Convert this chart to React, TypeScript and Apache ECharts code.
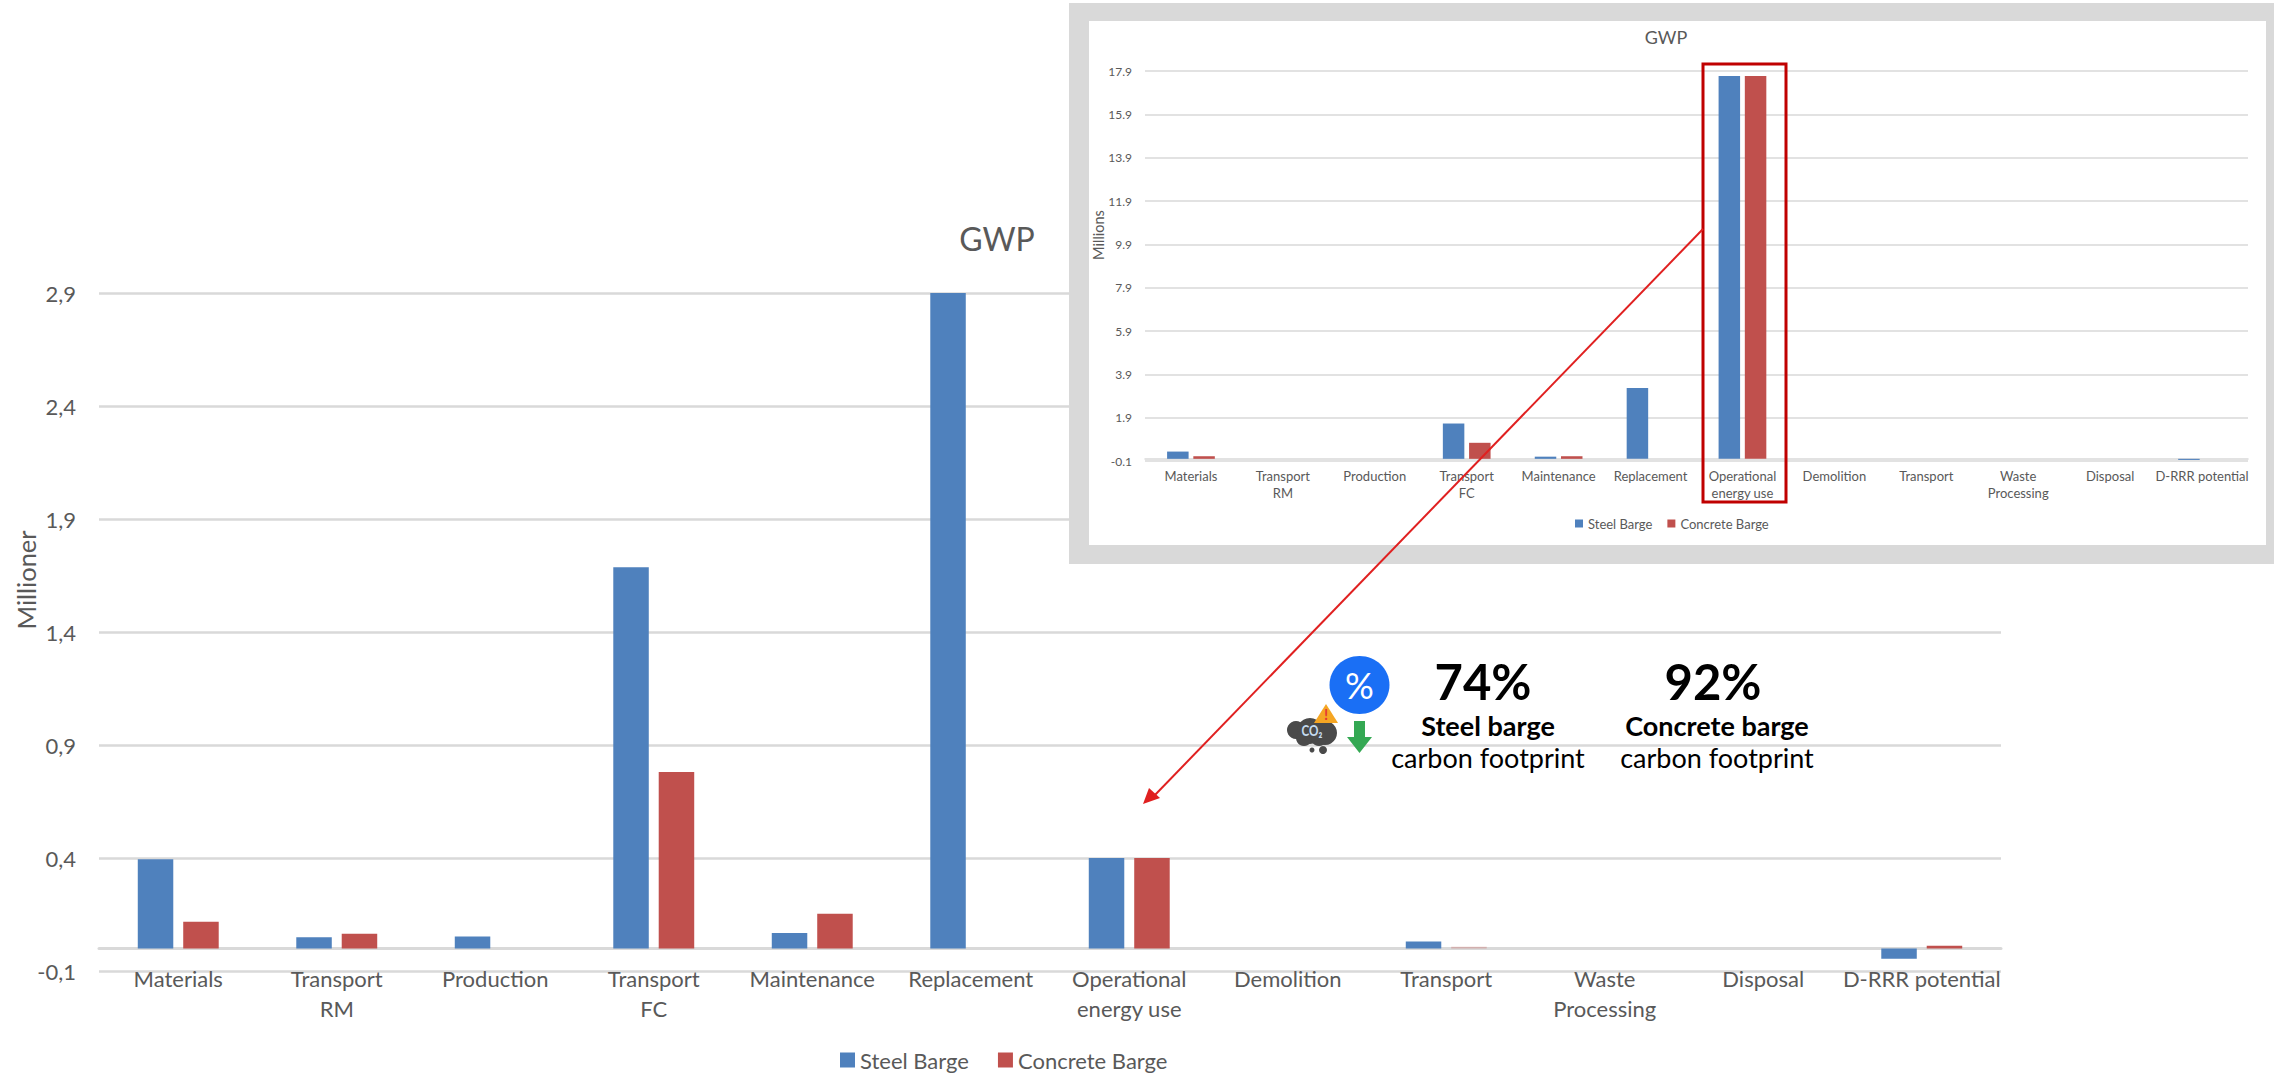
import React, { useEffect, useRef } from "react";
import * as echarts from "echarts";

const categories = ["Materials", "Transport\nRM", "Production", "Transport\nFC", "Maintenance", "Replacement", "Operational\nenergy use", "Demolition", "Transport", "Waste\nProcessing", "Disposal", "D-RRR potential"];
const steelBarge = [0.394, 0.049, 0.053, 1.686, 0.068, 2.9, 0.4, 0, 0.03, 0, 0, -0.046];
const concreteBarge = [0.118, 0.065, 0, 0.78, 0.153, 0, 0.4, 0, 0.0075, 0, 0, 0.012];
const mainTicks = [-0.1, 0.4, 0.9, 1.4, 1.9, 2.4, 2.9];

const fullSteelBarge = [0.335, 0, 0, 1.63, 0.1, 3.27, 17.67, 0, 0, 0, 0, -0.05];
const fullConcreteBarge = [0.12, 0, 0, 0.74, 0.12, 0, 17.67, 0, 0, 0, 0, 0];
const fullTicks = [-0.1, 1.9, 3.9, 5.9, 7.9, 9.9, 11.9, 13.9, 15.9, 17.9];

const seriesNames = ["Steel Barge", "Concrete Barge"];
const BLUE = "#4f81bd";
const RED = "#c0504d";
const GREY_TEXT = "#595959";
const GRID = "#d9d9d9";
const FONT = "Lato, 'Open Sans', sans-serif";

function txt(x: number, y: number, text: string, fontSize: number, fontWeight = "normal", fill = "#000000", z = 12) {
  return { type: "text", x, y, z, style: { text, fontSize, fontWeight, fill, fontFamily: FONT, align: "center", verticalAlign: "middle" } };
}

export default function App() {
  const ref = useRef<HTMLDivElement>(null);
  useEffect(() => {
    document.body.style.margin = "0";
    const chart = echarts.init(ref.current!, null, { renderer: "svg" });
    chart.setOption({
      animation: false,
      backgroundColor: "#ffffff",
      title: [
        { text: "GWP", left: 992, top: 233, textAlign: "center", textVerticalAlign: "middle", textStyle: { fontFamily: FONT, fontSize: 32, fontWeight: "normal", color: GREY_TEXT } },
        { text: "GWP", left: 1661, top: 32, textAlign: "center", textVerticalAlign: "middle", textStyle: { fontFamily: FONT, fontSize: 18, fontWeight: "normal", color: GREY_TEXT } },
      ],
      legend: [
        { data: seriesNames, left: 835, top: 1044, itemWidth: 15, itemHeight: 15, itemGap: 29, icon: "rect", selectedMode: false, textStyle: { fontFamily: FONT, fontSize: 22, color: GREY_TEXT } },
        { data: seriesNames, left: 1570, top: 512, itemWidth: 8, itemHeight: 8, itemGap: 15, icon: "rect", selectedMode: false, z: 6, textStyle: { fontFamily: FONT, fontSize: 13, color: GREY_TEXT } },
      ],
      grid: [
        { left: 99, top: 293, width: 1902, height: 678, show: false },
        { left: 1145, top: 71, width: 1103, height: 390, show: false },
      ],
      xAxis: [
        {
          type: "category", gridIndex: 0, data: categories,
          axisLine: { onZero: true, lineStyle: { color: GRID, width: 3 } },
          axisTick: { show: false },
          axisLabel: { interval: 0, margin: -8, color: GREY_TEXT, fontFamily: FONT, fontSize: 22, lineHeight: 30 },
        },
        {
          type: "category", gridIndex: 1, data: categories, z: 4,
          axisLine: { onZero: true, lineStyle: { color: GRID, width: 1.5 } },
          axisTick: { show: false },
          axisLabel: { interval: 0, margin: 7, color: GREY_TEXT, fontFamily: FONT, fontSize: 13, lineHeight: 16.5 },
        },
      ],
      yAxis: [
        {
          type: "value", gridIndex: 0, min: -0.1, max: 2.9,
          axisLine: { show: false },
          axisTick: { show: false, customValues: mainTicks },
          splitLine: { show: true, lineStyle: { color: GRID, width: 2.5 } },
          axisLabel: { customValues: mainTicks, margin: 23, color: GREY_TEXT, fontFamily: FONT, fontSize: 22, formatter: (v: number) => v.toFixed(1).replace(".", ",") },
        },
        {
          type: "value", gridIndex: 1, min: -0.1, max: 17.9, z: 4,
          axisLine: { show: false },
          axisTick: { show: false, customValues: fullTicks },
          splitLine: { show: true, lineStyle: { color: GRID, width: 1.5 } },
          axisLabel: { customValues: fullTicks, margin: 13, color: GREY_TEXT, fontFamily: FONT, fontSize: 12, formatter: (v: number) => v.toFixed(1) },
        },
      ],
      series: [
        { name: seriesNames[0], type: "bar", xAxisIndex: 0, yAxisIndex: 0, data: steelBarge, barWidth: 35.5, barGap: "28%", itemStyle: { color: BLUE } },
        {
          name: seriesNames[1], type: "bar", xAxisIndex: 0, yAxisIndex: 0, barWidth: 35.5, barGap: "28%", itemStyle: { color: RED },
          // the sliver on the second Transport category is drawn faint
          data: concreteBarge.map((v, i) => (i === 8 ? { value: v, itemStyle: { opacity: 0.3 } } : v)),
        },
        { name: seriesNames[0], type: "bar", xAxisIndex: 1, yAxisIndex: 1, data: fullSteelBarge, barWidth: 21.5, barGap: "22%", z: 5, itemStyle: { color: BLUE } },
        { name: seriesNames[1], type: "bar", xAxisIndex: 1, yAxisIndex: 1, data: fullConcreteBarge, barWidth: 21.5, barGap: "22%", z: 5, itemStyle: { color: RED } },
      ],
      graphic: [
        // frame behind the full-scale chart
        { type: "rect", z: 3, shape: { x: 1069, y: 3, width: 1205, height: 561 }, style: { fill: "#d9d9d9" } },
        { type: "rect", z: 3, shape: { x: 1089, y: 21, width: 1177, height: 524 }, style: { fill: "#ffffff" } },
        // axis names
        { type: "text", x: 26, y: 580, rotation: Math.PI / 2, z: 12, style: { text: "Millioner", fontFamily: FONT, fontSize: 25.5, fill: GREY_TEXT, align: "center", verticalAlign: "middle" } },
        { type: "text", x: 1098, y: 235, rotation: Math.PI / 2, z: 12, style: { text: "Millions", fontFamily: FONT, fontSize: 14.5, fill: GREY_TEXT, align: "center", verticalAlign: "middle" } },
        // highlight box and arrow
        { type: "rect", z: 11, shape: { x: 1703, y: 64, width: 83, height: 438 }, style: { fill: "none", stroke: "#c00000", lineWidth: 3 } },
        { type: "line", z: 11, shape: { x1: 1703, y1: 229, x2: 1154, y2: 796 }, style: { stroke: "#e02020", lineWidth: 2 } },
        { type: "polygon", z: 11, shape: { points: [[1143, 804], [1160, 798], [1149, 788]] }, style: { fill: "#e02020" } },
        // savings icon
        { type: "ellipse", z: 11, shape: { cx: 1359.5, cy: 685, rx: 30, ry: 29 }, style: { fill: "#1a6ff5" } },
        txt(1359.5, 685, "%", 36, "normal", "#ffffff"),
        { type: "polygon", z: 11, shape: { points: [[1354, 721], [1365, 721], [1365, 737], [1372, 737], [1359.5, 753], [1347, 737], [1354, 737]] }, style: { fill: "#34a853" } },
        // CO2 cloud
        ...[[1296, 730, 9], [1310, 731, 13], [1325, 733, 12], [1304, 738, 8], [1319, 738, 8], [1312, 750, 2.5], [1323, 750, 4]].map(([cx, cy, r]) => ({
          type: "circle", z: 11, shape: { cx, cy, r }, style: { fill: "#4a4a4a" },
        })),
        { ...txt(1312, 730, "CO₂", 15, "bold", "#c5dcf0"), scaleX: 0.78 },
        { type: "polygon", z: 12, shape: { points: [[1326, 704], [1338, 723], [1314, 723]] }, style: { fill: "#f5a623" } },
        txt(1326, 714, "!", 15, "bold", "#e53935", 13),
        // reduction figures
        txt(1483, 681, "74%", 49, "bold"),
        txt(1488, 725, "Steel barge", 27, "bold"),
        txt(1488, 757, "carbon footprint", 27),
        txt(1713, 681, "92%", 49, "bold"),
        txt(1717, 725, "Concrete barge", 27, "bold"),
        txt(1717, 757, "carbon footprint", 27),
      ],
    });
    return () => chart.dispose();
  }, []);
  return <div ref={ref} style={{ position: "absolute", left: 0, top: 0, width: 2274, height: 1075 }} />;
}
